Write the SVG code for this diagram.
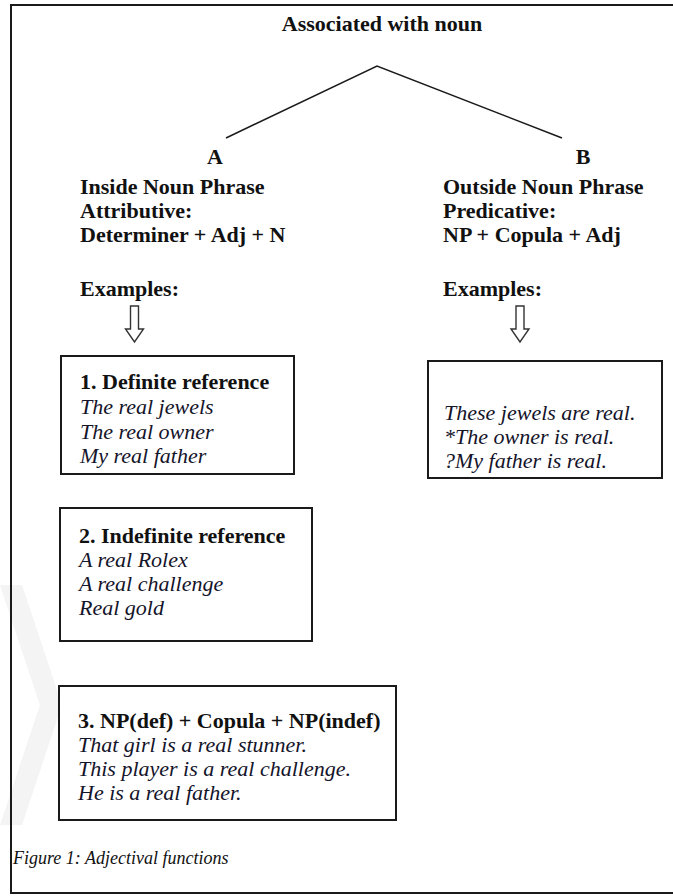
<svg xmlns="http://www.w3.org/2000/svg" width="673" height="896" viewBox="0 0 673 896">
<style>
  .bg { fill: #ffffff; }
  .wm { fill: #f4f4f4; }
  .frame { stroke: #1a1a1a; stroke-width: 2; fill: none; }
  .box { fill: #ffffff; stroke: #1a1a1a; stroke-width: 2; }
  .edge { stroke: #1a1a1a; stroke-width: 1.5; fill: none; }
  .harrow { fill: #ffffff; stroke: #333333; stroke-width: 1.4; }
  .b { font-family: "Liberation Serif", "Times New Roman", serif; font-weight: bold; font-size: 22px; fill: #111111; }
  .i { font-family: "Liberation Serif", "Times New Roman", serif; font-style: italic; font-size: 22px; fill: #14142a; }
  .cap { font-family: "Liberation Serif", "Times New Roman", serif; font-style: italic; font-size: 18px; fill: #111111; }
</style>
<rect class="bg" x="0" y="0" width="673" height="896"/>
<polygon class="wm" points="0,585 22,585 62,705 22,825 0,825 40,705"/>
<path class="frame" d="M673,5 H11 V893 H673"/>

<g id="connectors">
  <polyline class="edge" points="226,138 377,66 562,138"/>
  <path class="harrow" d="M130.5,306 H138.5 V329 H143.5 L134.5,342 L125.5,329 H130.5 Z"/>
  <path class="harrow" d="M516,306 H524 V329 H529 L520,342 L511,329 H516 Z"/>
</g>

<g id="root">
  <text class="b" x="382" y="31" text-anchor="middle">Associated with noun</text>
</g>

<g id="nodeA">
  <text class="b" x="215" y="164" text-anchor="middle">A</text>
  <text class="b" x="80" y="194">Inside Noun Phrase</text>
  <text class="b" x="80" y="218">Attributive:</text>
  <text class="b" x="80" y="242">Determiner + Adj + N</text>
  <text class="b" x="80" y="296">Examples:</text>
</g>

<g id="nodeB">
  <text class="b" x="583" y="164" text-anchor="middle">B</text>
  <text class="b" x="443" y="194">Outside Noun Phrase</text>
  <text class="b" x="443" y="218">Predicative:</text>
  <text class="b" x="443" y="242">NP + Copula + Adj</text>
  <text class="b" x="443" y="296">Examples:</text>
</g>

<g id="box1">
  <rect class="box" x="61" y="356" width="233" height="118"/>
  <text class="b" x="80" y="389">1. Definite reference</text>
  <text class="i" x="80" y="414">The real jewels</text>
  <text class="i" x="80" y="438.5">The real owner</text>
  <text class="i" x="80" y="463">My real father</text>
</g>

<g id="boxB">
  <rect class="box" x="428" y="361" width="234" height="117"/>
  <text class="i" x="444" y="420">These jewels are real.</text>
  <text class="i" x="444" y="444">*The owner is real.</text>
  <text class="i" x="444" y="468">?My father is real.</text>
</g>

<g id="box2">
  <rect class="box" x="60" y="508" width="252" height="133"/>
  <text class="b" x="79" y="543">2. Indefinite reference</text>
  <text class="i" x="79" y="567">A real Rolex</text>
  <text class="i" x="79" y="591">A real challenge</text>
  <text class="i" x="79" y="615">Real gold</text>
</g>

<g id="box3">
  <rect class="box" x="59" y="686" width="337" height="134"/>
  <text class="b" x="78" y="728">3. NP(def) + Copula + NP(indef)</text>
  <text class="i" x="78" y="752">That girl is a real stunner.</text>
  <text class="i" x="78" y="776">This player is a real challenge.</text>
  <text class="i" x="78" y="800">He is a real father.</text>
</g>

<g id="caption">
  <text class="cap" x="13" y="864">Figure 1: Adjectival functions</text>
</g>
</svg>
